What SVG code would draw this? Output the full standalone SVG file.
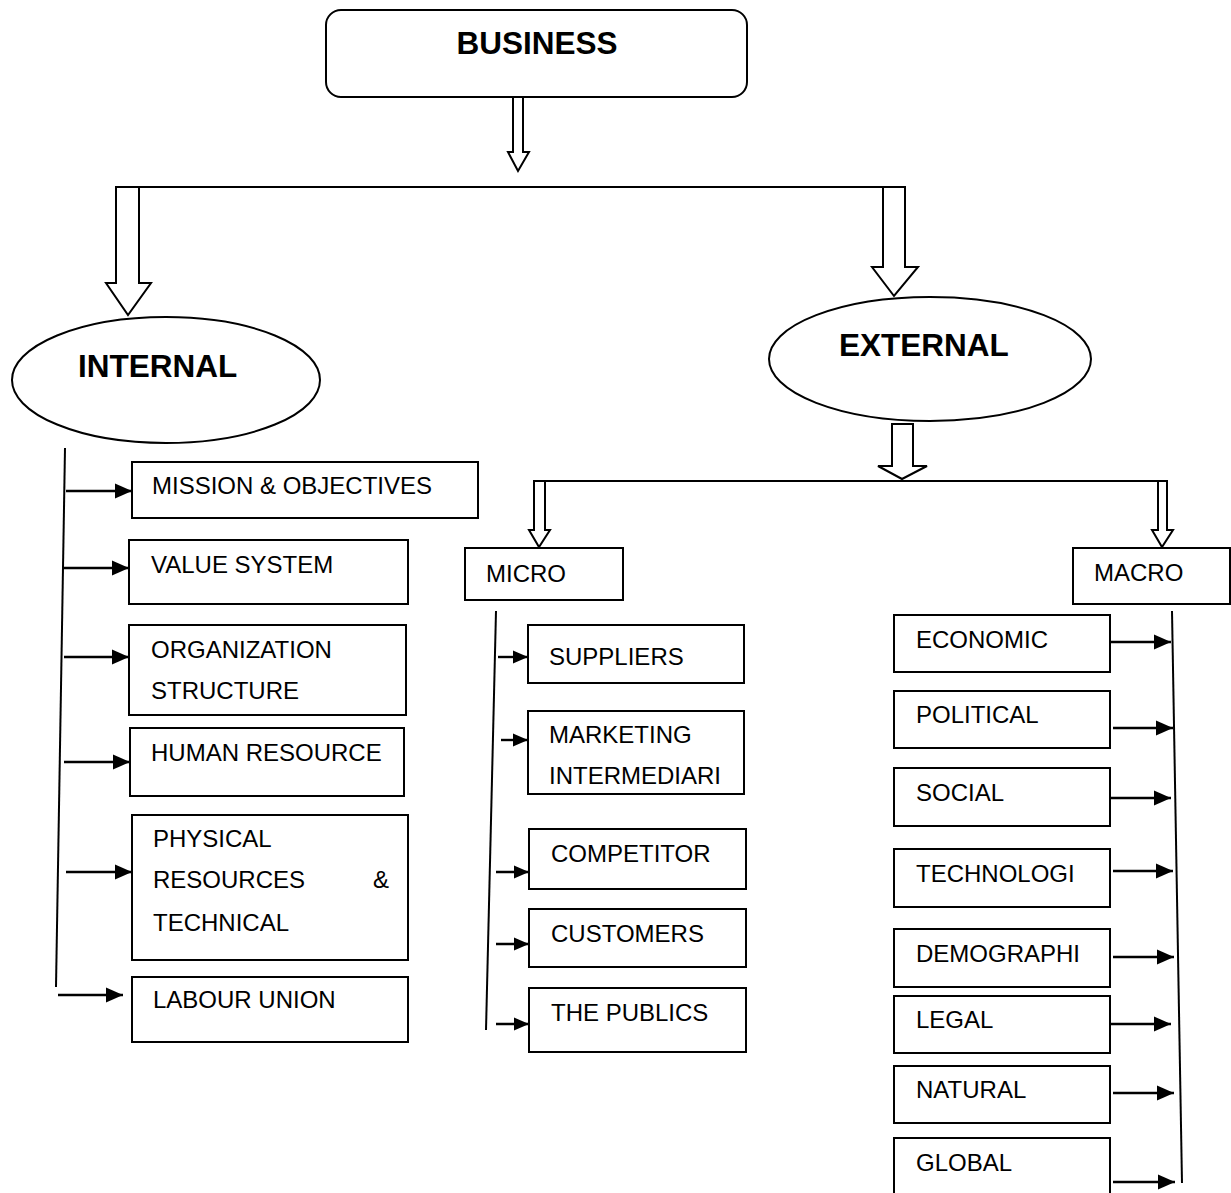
<svg xmlns="http://www.w3.org/2000/svg" width="1231" height="1193" viewBox="0 0 1231 1193">
<style>
.box{fill:#fff;stroke:#000;stroke-width:2}
.hollow{fill:#fff;stroke:#000;stroke-width:2;stroke-linejoin:miter}
.ln{fill:none;stroke:#000;stroke-width:2}
.arr{fill:none;stroke:#000;stroke-width:2.4;marker-end:url(#ah)}
.arrs{fill:none;stroke:#000;stroke-width:2.4;marker-end:url(#ahs)}
.t{font-family:"Liberation Sans",Arial,sans-serif;font-size:24px;fill:#000}
.tb{font-family:"Liberation Sans",Arial,sans-serif;font-size:31.5px;font-weight:bold;fill:#000}
</style>
<defs>
<marker id="ah" markerUnits="userSpaceOnUse" markerWidth="17" markerHeight="16" refX="17" refY="8" orient="auto"><path d="M0,0.5 L17,8 L0,15.5 z" fill="#000"/></marker>
<marker id="ahs" markerUnits="userSpaceOnUse" markerWidth="15" markerHeight="14" refX="15" refY="7" orient="auto"><path d="M0,0.5 L15,7 L0,13.5 z" fill="#000"/></marker>
</defs>
<rect width="1231" height="1193" fill="#fff"/>

<g id="connectors">
<polygon class="hollow" points="513,97 523,97 523,152 529,152 518,171 508,152 513,152"/>
<line class="ln" x1="116" y1="187" x2="905" y2="187"/>
<polygon class="hollow" points="116,187 139,187 139,283 151,283 128,315 106,283 116,283"/>
<polygon class="hollow" points="883,187 905,187 905,267 918,267 894,296 872,267 883,267"/>
<polygon class="hollow" points="892,424 913,424 913,466 927,466 902,479 878,466 892,466"/>
<line class="ln" x1="534" y1="481" x2="1167" y2="481"/>
<polygon class="hollow" points="534,481 545,481 545,530 550,530 539,547 529,530 534,530"/>
<polygon class="hollow" points="1158,481 1167,481 1167,530 1173,530 1162,547 1152,530 1158,530"/>
<!-- internal -->
<line class="ln" x1="65" y1="448" x2="56" y2="987"/>
<line class="arr" x1="66" y1="491" x2="132" y2="491"/>
<line class="arr" x1="63" y1="568" x2="129" y2="568"/>
<line class="arr" x1="64" y1="657" x2="129" y2="657"/>
<line class="arr" x1="64" y1="762" x2="130" y2="762"/>
<line class="arr" x1="66" y1="872" x2="132" y2="872"/>
<line class="arr" x1="58" y1="995" x2="123" y2="995"/>
<!-- micro -->
<line class="ln" x1="496" y1="611" x2="486" y2="1030"/>
<line class="arrs" x1="498" y1="657" x2="528" y2="657"/>
<line class="arrs" x1="501" y1="740" x2="528" y2="740"/>
<line class="arrs" x1="496" y1="872" x2="529" y2="872"/>
<line class="arrs" x1="496" y1="944" x2="529" y2="944"/>
<line class="arrs" x1="496" y1="1024" x2="529" y2="1024"/>
<!-- macro -->
<line class="ln" x1="1172" y1="611" x2="1182" y2="1183"/>
<line class="arr" x1="1110" y1="642" x2="1171" y2="642"/>
<line class="arr" x1="1113" y1="728" x2="1173" y2="728"/>
<line class="arr" x1="1110" y1="798" x2="1171" y2="798"/>
<line class="arr" x1="1113" y1="871" x2="1173" y2="871"/>
<line class="arr" x1="1113" y1="957" x2="1174" y2="957"/>
<line class="arr" x1="1110" y1="1024" x2="1171" y2="1024"/>
<line class="arr" x1="1113" y1="1093" x2="1174" y2="1093"/>
<line class="arr" x1="1113" y1="1182" x2="1175" y2="1182"/>
</g>

<g id="business"><rect class="box" x="326" y="10" width="421" height="87" rx="15"/><text class="tb" x="537" y="54" text-anchor="middle">BUSINESS</text></g>
<g id="internal"><ellipse class="box" cx="166" cy="380" rx="154" ry="63"/><text class="tb" x="78" y="377">INTERNAL</text></g>
<g id="external"><ellipse class="box" cx="930" cy="359" rx="161" ry="62"/><text class="tb" x="839" y="356">EXTERNAL</text></g>

<g id="mission"><rect class="box" x="132" y="462" width="346" height="56"/><text class="t" x="152" y="494">MISSION &amp; OBJECTIVES</text></g>
<g id="value"><rect class="box" x="129" y="540" width="279" height="64"/><text class="t" x="151" y="573">VALUE SYSTEM</text></g>
<g id="org"><rect class="box" x="129" y="625" width="277" height="90"/><text class="t" x="151" y="658">ORGANIZATION</text><text class="t" x="151" y="699">STRUCTURE</text></g>
<g id="human"><rect class="box" x="130" y="728" width="274" height="68"/><text class="t" x="151" y="761">HUMAN RESOURCE</text></g>
<g id="physical"><rect class="box" x="132" y="815" width="276" height="145"/><text class="t" x="153" y="847">PHYSICAL</text><text class="t" x="153" y="888">RESOURCES</text><text class="t" x="373" y="888">&amp;</text><text class="t" x="153" y="931">TECHNICAL</text></g>
<g id="labour"><rect class="box" x="132" y="977" width="276" height="65"/><text class="t" x="153" y="1008">LABOUR UNION</text></g>

<g id="micro"><rect class="box" x="465" y="548" width="158" height="52"/><text class="t" x="486" y="582">MICRO</text></g>
<g id="suppliers"><rect class="box" x="528" y="625" width="216" height="58"/><text class="t" x="549" y="665">SUPPLIERS</text></g>
<g id="marketing"><rect class="box" x="528" y="711" width="216" height="83"/><text class="t" x="549" y="743">MARKETING</text><text class="t" x="549" y="784">INTERMEDIARI</text></g>
<g id="competitor"><rect class="box" x="529" y="829" width="217" height="60"/><text class="t" x="551" y="862">COMPETITOR</text></g>
<g id="customers"><rect class="box" x="529" y="909" width="217" height="58"/><text class="t" x="551" y="942">CUSTOMERS</text></g>
<g id="publics"><rect class="box" x="529" y="988" width="217" height="64"/><text class="t" x="551" y="1021">THE PUBLICS</text></g>

<g id="macro"><rect class="box" x="1073" y="548" width="157" height="56"/><text class="t" x="1094" y="581">MACRO</text></g>
<g id="economic"><rect class="box" x="894" y="615" width="216" height="57"/><text class="t" x="916" y="648">ECONOMIC</text></g>
<g id="political"><rect class="box" x="894" y="691" width="216" height="57"/><text class="t" x="916" y="723">POLITICAL</text></g>
<g id="social"><rect class="box" x="894" y="768" width="216" height="58"/><text class="t" x="916" y="801">SOCIAL</text></g>
<g id="technologi"><rect class="box" x="894" y="849" width="216" height="58"/><text class="t" x="916" y="882">TECHNOLOGI</text></g>
<g id="demographi"><rect class="box" x="894" y="929" width="216" height="58"/><text class="t" x="916" y="962">DEMOGRAPHI</text></g>
<g id="legal"><rect class="box" x="894" y="996" width="216" height="57"/><text class="t" x="916" y="1028">LEGAL</text></g>
<g id="natural"><rect class="box" x="894" y="1066" width="216" height="57"/><text class="t" x="916" y="1098">NATURAL</text></g>
<g id="global"><rect class="box" x="894" y="1138" width="216" height="70"/><text class="t" x="916" y="1171">GLOBAL</text></g>
</svg>
